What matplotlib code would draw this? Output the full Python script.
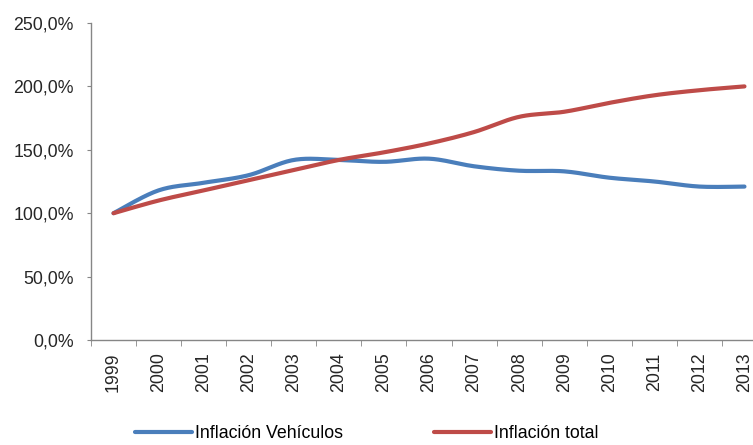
import numpy as np
import matplotlib.pyplot as plt
from matplotlib.ticker import FuncFormatter

plt.rcParams['font.family'] = ['Liberation Sans', 'DejaVu Sans']

years = [str(y) for y in range(1999, 2014)]
vehiculos = [100, 118, 124, 130, 142, 142, 140.5, 143, 137, 133.5, 133, 128, 125, 121, 121]
total = [100, 110, 118, 126, 134, 142, 148, 155, 164, 176, 180, 187, 193, 197, 200]


def smooth(xs, ys, n=20):
    # Excel style smoothed line: bezier segments with catmull-rom control points
    xs = np.asarray(xs, float)
    ys = np.asarray(ys, float)
    px = np.concatenate([[xs[0]], xs, [xs[-1]]])
    py = np.concatenate([[ys[0]], ys, [ys[-1]]])
    outx, outy = [], []
    t = np.linspace(0, 1, n)
    for i in range(1, len(px) - 2):
        p0 = np.array([px[i], py[i]])
        p3 = np.array([px[i + 1], py[i + 1]])
        c1 = p0 + (p3 - np.array([px[i - 1], py[i - 1]])) / 6
        c2 = p3 - (np.array([px[i + 2], py[i + 2]]) - p0) / 6
        b = ((1 - t) ** 3)[:, None] * p0 + (3 * (1 - t) ** 2 * t)[:, None] * c1 \
            + (3 * (1 - t) * t ** 2)[:, None] * c2 + (t ** 3)[:, None] * p3
        outx.extend(b[:, 0])
        outy.extend(b[:, 1])
    return outx, outy


fs = 12.8
fig = plt.figure(figsize=(7.53, 4.45), dpi=100)
ax = fig.add_axes([91 / 753, 1 - 340 / 445, 676 / 753, 317 / 445])

idx = np.arange(len(years))
bx, by = smooth(idx, vehiculos)
rx, ry = smooth(idx, total)
ax.plot(bx, by, color='#4A7EBB', lw=3, solid_capstyle='round', label='Inflación Vehículos')
ax.plot(rx, ry, color='#BE4B48', lw=3, solid_capstyle='round', label='Inflación total')

ax.set_xlim(-0.5, len(years) - 0.5)
ax.set_ylim(0, 250)
ax.set_yticks(np.arange(0, 251, 50))
ax.yaxis.set_major_formatter(FuncFormatter(lambda v, p: f'{v:.1f}%'.replace('.', ',')))
ax.set_xticks(idx)
ax.set_xticklabels(years, rotation=90)
ax.set_xticks(np.arange(-0.5, len(years), 1), minor=True)
ax.tick_params(axis='x', which='major', length=0, pad=9)
ax.tick_params(axis='x', which='minor', length=4, color='#868686')
ax.tick_params(axis='y', length=3, color='#868686', pad=9.5)
ax.tick_params(labelsize=fs, labelcolor='#262626')

for s in ['top', 'right']:
    ax.spines[s].set_visible(False)
for s in ['left', 'bottom']:
    ax.spines[s].set_color('#868686')
    ax.spines[s].set_linewidth(1)

fig.legend(loc='center left', bbox_to_anchor=(135 / 753, 11 / 445), ncol=2,
           frameon=False, fontsize=fs, handlelength=3.2, handletextpad=0.15,
           columnspacing=5.15, borderpad=0, borderaxespad=0)

fig.savefig('out.png', dpi=100)
